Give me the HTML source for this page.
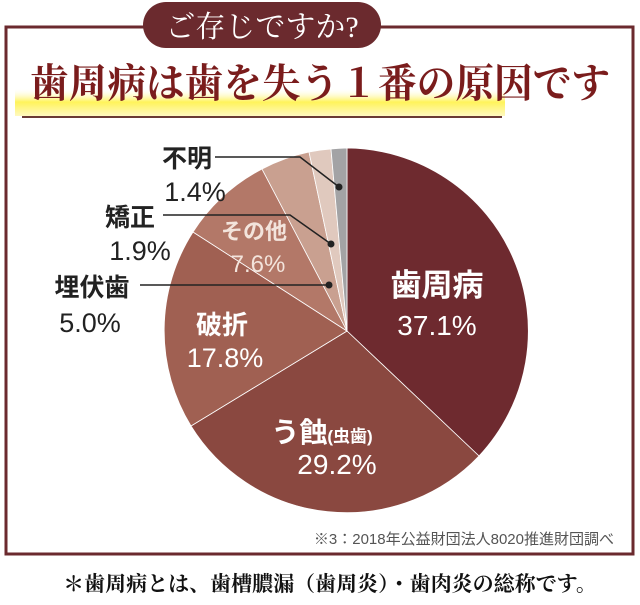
<!DOCTYPE html>
<html><head><meta charset="utf-8"><style>
body{margin:0;background:#fff;}
svg text{font-family:"Liberation Sans","Noto Sans CJK JP",sans-serif;}
.serif{font-family:"Liberation Serif","Noto Serif CJK SC",serif !important;}
</style></head><body>
<svg width="640" height="600" viewBox="0 0 640 600" xmlns="http://www.w3.org/2000/svg">
<defs>
<linearGradient id="yg" x1="0" y1="0" x2="0" y2="1">
<stop offset="0" stop-color="#fff" stop-opacity="0"/>
<stop offset="0.5" stop-color="#fff35a"/>
<stop offset="1" stop-color="#fff9c0"/>
</linearGradient>
</defs>
<path d="M6 27 H633 V554 H6 Z" fill="none" stroke="#6b2a2e" stroke-width="3"/>
<rect x="143" y="2" width="238" height="46" rx="23" fill="#6b2a2e"/>
<text x="262" y="37" text-anchor="middle" class="serif" font-size="30" fill="#fff">ご存じですか?</text>
<rect x="15" y="88" width="490" height="28" fill="url(#yg)"/>
<line x1="22" y1="117" x2="502" y2="117" stroke="#6a3a35" stroke-width="2"/>
<text x="320" y="97" text-anchor="middle" class="serif" font-size="40" font-weight="bold" fill="#7a1c1c" textLength="580" lengthAdjust="spacingAndGlyphs">歯周病は歯を失う１番の原因です</text>
<g stroke="#fff" stroke-width="0.8">
<path d="M347 331 L347 148 A183 183 0 0 1 479 456 Z" fill="#6e2a2f"/>
<path d="M347 331 L479 456 A183 183 0 0 1 191 426 Z" fill="#8a4840"/>
<path d="M347 331 L191 426 A183 183 0 0 1 193 232 Z" fill="#a06052"/>
<path d="M347 331 L193 232 A183 183 0 0 1 262 169 Z" fill="#b37868"/>
<path d="M347 331 L262 169 A183 183 0 0 1 309 152 Z" fill="#c9a090"/>
<path d="M347 331 L309 152 A183 183 0 0 1 331 149 Z" fill="#e0c9be"/>
<path d="M347 331 L331 149 A183 183 0 0 1 347 148 Z" fill="#a3a3a5"/>
</g>
<g stroke="#222" stroke-width="1.5" fill="none">
<polyline points="215,157 300,157 339,187"/>
<polyline points="163,215 290,215 331,244"/>
<line x1="140" y1="285" x2="329" y2="285"/>
</g>
<g fill="#222"><circle cx="339" cy="187" r="3.5"/><circle cx="331" cy="244" r="3.5"/><circle cx="329" cy="285" r="3.5"/></g>
<g fill="#fff" text-anchor="middle">
<text x="437" y="296" font-size="31" font-weight="bold">歯周病</text>
<text x="437" y="335" font-size="28">37.1%</text>
<text x="322" y="442" font-size="28" font-weight="bold">う蝕<tspan font-size="17">(虫歯)</tspan></text>
<text x="337" y="474" font-size="28">29.2%</text>
<text x="222" y="334" font-size="26" font-weight="bold">破折</text>
<text x="225" y="367" font-size="27">17.8%</text>
</g>
<g fill="#f3e4dc" text-anchor="middle">
<text x="254" y="239" font-size="22" font-weight="bold">その他</text>
<text x="258" y="272" font-size="24">7.6%</text>
</g>
<g fill="#222" text-anchor="middle">
<text x="187" y="167" font-size="25" font-weight="bold">不明</text>
<text x="195" y="201" font-size="27">1.4%</text>
<text x="130" y="226" font-size="25" font-weight="bold">矯正</text>
<text x="140" y="260" font-size="27">1.9%</text>
<text x="92" y="296" font-size="25" font-weight="bold">埋伏歯</text>
<text x="90" y="332" font-size="27">5.0%</text>
</g>
<text x="614" y="544" text-anchor="end" font-size="15" fill="#555">※3：2018年公益財団法人8020推進財団調べ</text>
<text x="330" y="591" text-anchor="middle" class="serif" font-size="21" font-weight="bold" fill="#111">＊歯周病とは、歯槽膿漏（歯周炎）・歯肉炎の総称です。</text>
</svg>
</body></html>
